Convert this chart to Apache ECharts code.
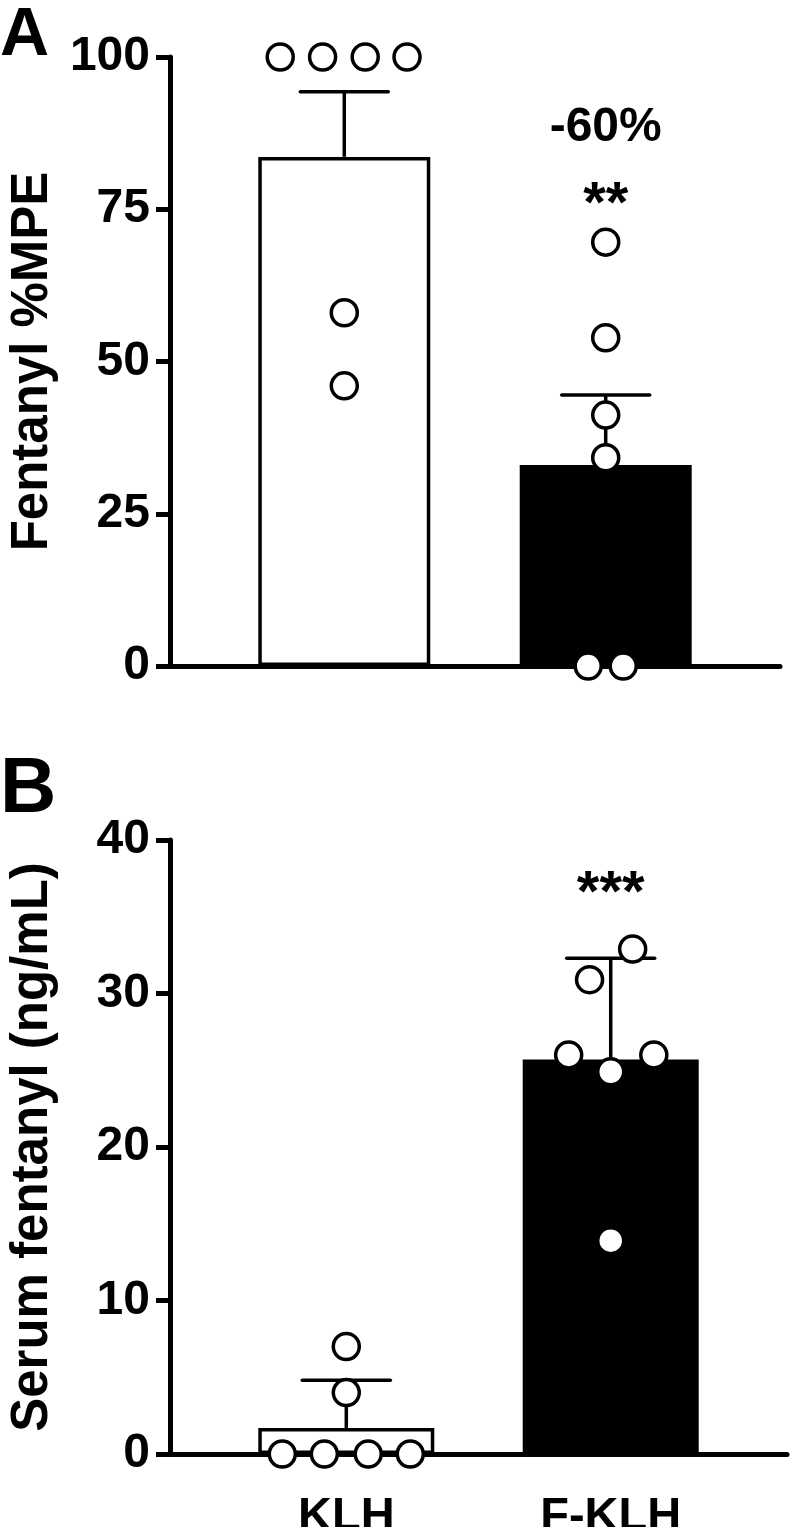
<!DOCTYPE html>
<html>
<head>
<meta charset="utf-8">
<script src="https://cdn.jsdelivr.net/npm/echarts@6/dist/echarts.min.js"></script>
<style>
  html, body { margin: 0; padding: 0; background: #fff; }
  #chart { width: 793px; height: 1527px; }
</style>
</head>
<body>
<div id="chart"></div>
<script>
// groups on the x axis
const groups = ['KLH', 'F-KLH'];

// panel A: Fentanyl %MPE
const mpeMean = [83.6, 33.0];
const mpeErrTop = [94.3, 44.5];
const mpeKLH = [100, 100, 100, 100, 58, 46];
const mpeKLHJitter = [-0.245, -0.083, 0.08, 0.24, 0, 0];
const mpeFKLH = [69.6, 53.9, 41.2, 34.2, 0, 0];
const mpeFKLHJitter = [0, 0, 0, 0, -0.067, 0.067];
const mpeTicks = [0, 100, 25];

// panel B: serum fentanyl (ng/mL)
const serumMean = [1.7, 25.7];
const serumErrTop = [4.8, 32.3];
const serumKLH = [7, 4, 0, 0, 0, 0];
const serumKLHJitter = [0, 0, -0.242, -0.083, 0.083, 0.242];
const serumFKLH = [32.9, 30.9, 26.0, 26.0, 24.9, 13.9];
const serumFKLHJitter = [0.083, -0.08, -0.159, 0.163, 0, 0];
const serumTicks = [0, 40, 10];

// significance marks above F-KLH
const annotA = [['-60%', 88.3, 48], ['**', 75.5, 58]];
const annotB = [['***', 36.4, 58]];

const FONT = '"Liberation Sans", Arial, Helvetica, sans-serif';
const chart = echarts.init(document.getElementById('chart'));

function xAxisOpt(gridIndex, showLabels) {
  return {
    gridIndex: gridIndex,
    type: 'value',
    min: 1 / 3,
    max: 8 / 3,
    axisLine: { show: true, lineStyle: { color: '#000', width: 5 } },
    axisTick: { show: false },
    splitLine: { show: false },
    axisLabel: {
      show: showLabels,
      customValues: [1, 2],
      formatter: v => groups[Math.round(v) - 1] || '',
      color: '#000',
      fontFamily: FONT,
      fontWeight: 'bold',
      fontSize: 47,
      margin: 40
    }
  };
}

function yAxisOpt(gridIndex, ticks, name) {
  return {
    gridIndex: gridIndex,
    type: 'value',
    min: ticks[0],
    max: ticks[1],
    interval: ticks[2],
    name: name,
    nameLocation: 'middle',
    nameGap: 112,
    nameTextStyle: { color: '#000', fontFamily: FONT, fontWeight: 'bold', fontSize: 51 },
    axisLine: { show: true, lineStyle: { color: '#000', width: 5 } },
    axisTick: { show: true, length: 14, lineStyle: { color: '#000', width: 5 } },
    splitLine: { show: false },
    axisLabel: { color: '#000', fontFamily: FONT, fontWeight: 'bold', fontSize: 48, margin: 20 }
  };
}

function barSeries(idx, means, width) {
  return {
    type: 'bar',
    xAxisIndex: idx,
    yAxisIndex: idx,
    barWidth: width,
    z: 2,
    data: means.map((m, i) => ({
      value: [i + 1, m],
      itemStyle: { color: i === 0 ? '#fff' : '#000' }
    })),
    itemStyle: { borderColor: '#000', borderWidth: 3.5 }
  };
}

function errorSeries(idx, means, tops) {
  return {
    type: 'custom',
    xAxisIndex: idx,
    yAxisIndex: idx,
    z: 3,
    clip: false,
    data: means.map((m, i) => [i + 1, m, tops[i]]),
    renderItem: (params, api) => {
      const base = api.coord([api.value(0), api.value(1)]);
      const top = api.coord([api.value(0), api.value(2)]);
      return {
        type: 'group',
        children: [
          { type: 'line', shape: { x1: base[0], y1: base[1], x2: top[0], y2: top[1] },
            style: { stroke: '#000', lineWidth: 3.5 } },
          { type: 'line', shape: { x1: top[0] - 44, y1: top[1], x2: top[0] + 44, y2: top[1] },
            style: { stroke: '#000', lineWidth: 3.5, lineCap: 'round' } }
        ]
      };
    }
  };
}

function dotSeries(idx, values, jitter, group) {
  return {
    type: 'scatter',
    xAxisIndex: idx,
    yAxisIndex: idx,
    z: 5,
    clip: false,
    symbol: 'circle',
    symbolSize: 26,
    itemStyle: { color: '#fff', borderColor: '#000', borderWidth: 3.5, opacity: 1 },
    data: values.map((v, i) => [group + jitter[i], v])
  };
}

function annotSeries(idx, list) {
  return {
    type: 'scatter',
    xAxisIndex: idx,
    yAxisIndex: idx,
    z: 6,
    clip: false,
    symbolSize: 0,
    itemStyle: { opacity: 1 },
    data: list.map(a => ({
      value: [2, a[1]],
      label: {
        show: true,
        position: 'inside',
        formatter: a[0],
        color: '#000',
        fontFamily: FONT,
        fontWeight: 'bold',
        fontSize: a[2]
      }
    }))
  };
}

const option = {
  animation: false,
  backgroundColor: '#fff',
  grid: [
    { left: 170, top: 57, width: 610, height: 609, outerBoundsMode: 'none' },
    { left: 170, top: 840, width: 617, height: 614, outerBoundsMode: 'none' }
  ],
  xAxis: [xAxisOpt(0, false), xAxisOpt(1, true)],
  yAxis: [
    yAxisOpt(0, mpeTicks, 'Fentanyl %MPE'),
    yAxisOpt(1, serumTicks, 'Serum fentanyl (ng/mL)')
  ],
  graphic: [
    { type: 'text', left: 0, top: 2, style: { text: 'A', font: 'bold 68px ' + FONT, fill: '#000' } },
    { type: 'text', left: 0, top: 751, style: { text: 'B', font: 'bold 78px ' + FONT, fill: '#000' } }
  ],
  series: [
    barSeries(0, mpeMean, 172),
    errorSeries(0, mpeMean, mpeErrTop),
    dotSeries(0, mpeKLH, mpeKLHJitter, 1),
    dotSeries(0, mpeFKLH, mpeFKLHJitter, 2),
    annotSeries(0, annotA),
    barSeries(1, serumMean, 176),
    errorSeries(1, serumMean, serumErrTop),
    dotSeries(1, serumKLH, serumKLHJitter, 1),
    dotSeries(1, serumFKLH, serumFKLHJitter, 2),
    annotSeries(1, annotB)
  ]
};

chart.setOption(option);
</script>
</body>
</html>
